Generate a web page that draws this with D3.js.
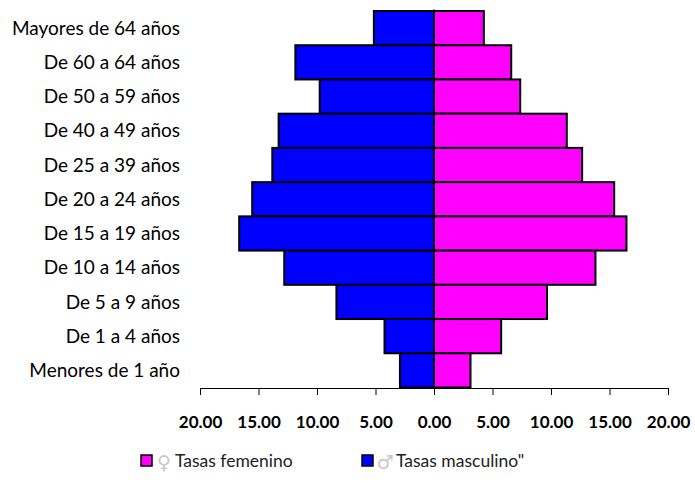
<!DOCTYPE html>
<html>
<head>
<meta charset="utf-8">
<script src="https://cdn.jsdelivr.net/npm/d3@7"></script>
<style>
  html, body { margin: 0; padding: 0; background: #fff; }
  svg { display: block; font-family: Lato, "Open Sans", sans-serif; }
</style>
</head>
<body>
<svg id="chart" width="695" height="489"></svg>
<script>
// ---- data ----
const categories = [
  "Mayores de 64 años",
  "De 60 a 64 años",
  "De 50 a 59 años",
  "De 40 a 49 años",
  "De 25 a 39 años",
  "De 20 a 24 años",
  "De 15 a 19 años",
  "De 10 a 14 años",
  "De 5 a 9 años",
  "De 1 a 4 años",
  "Menores de 1 año"
];
const masculino = [5.14, 11.85, 9.77, 13.28, 13.82, 15.54, 16.65, 12.80, 8.34, 4.23, 2.91];
const femenino  = [4.26, 6.60, 7.37, 11.35, 12.66, 15.40, 16.45, 13.80, 9.66, 5.74, 3.12];
const tickValues = [-20, -15, -10, -5, 0, 5, 10, 15, 20];
const legendSymbols = ["\u2640", "\u2642"];
const legendLabels = ["Tasas femenino", "Tasas masculino\""];

// ---- layout ----
const svg = d3.select("#chart");
const plot = { left: 200, right: 668, top: 11, bottom: 387.5 };
const colF = "#FF00FF", colM = "#0000FF";

const x = d3.scaleLinear().domain([-20, 20]).range([plot.left, plot.right]);
const y = d3.scaleBand().domain(categories).range([plot.top, plot.bottom]).padding(0);

const rows = categories.map((c, i) => ({ cat: c, m: masculino[i], f: femenino[i] }));

// male bars (left)
svg.append("g").selectAll("rect").data(rows).join("rect")
  .attr("x", d => x(-d.m))
  .attr("y", d => y(d.cat))
  .attr("width", d => x(0) - x(-d.m))
  .attr("height", y.bandwidth())
  .attr("fill", colM)
  .attr("stroke", "#000")
  .attr("stroke-width", 2);

// female bars (right)
svg.append("g").selectAll("rect").data(rows).join("rect")
  .attr("x", x(0))
  .attr("y", d => y(d.cat))
  .attr("width", d => x(d.f) - x(0))
  .attr("height", y.bandwidth())
  .attr("fill", colF)
  .attr("stroke", "#000")
  .attr("stroke-width", 2);

// vertical center axis
svg.append("line")
  .attr("x1", x(0)).attr("x2", x(0))
  .attr("y1", plot.top - 1.5).attr("y2", plot.bottom)
  .attr("stroke", "#000").attr("stroke-width", 1.5);

// category labels
svg.append("g").selectAll("text").data(categories).join("text")
  .attr("x", 180)
  .attr("y", d => y(d) + y.bandwidth() / 2)
  .attr("dy", "0.35em")
  .attr("text-anchor", "end")
  .style("font-family", "Lato, 'Open Sans', sans-serif")
  .style("font-size", "19px")
  .attr("fill", "#000")
  .text(d => d);

// x axis
const xAxis = d3.axisBottom(x)
  .tickValues(tickValues)
  .tickSize(7)
  .tickSizeOuter(7)
  .tickFormat(v => Math.abs(v).toFixed(2));
const gx = svg.append("g")
  .attr("transform", `translate(0,${plot.bottom + 0.5})`)
  .call(xAxis);
gx.select(".domain").attr("stroke", "#000").attr("stroke-width", 1);
gx.selectAll(".tick line").attr("stroke", "#000").attr("stroke-width", 1);
gx.selectAll(".tick text")
  .attr("y", 34)
  .attr("dy", "0.35em")
  .attr("fill", "#000")
  .style("font-size", "17px")
  .style("font-weight", "bold")
  .style("font-family", "Lato, 'Open Sans', sans-serif");

// legend
const legend = svg.append("g");
const legendItems = [
  { sym: legendSymbols[0], label: legendLabels[0], color: colF, x: 141 },
  { sym: legendSymbols[1], label: legendLabels[1], color: colM, x: 362 }
];
legendItems.forEach(it => {
  legend.append("rect")
    .attr("x", it.x).attr("y", 455)
    .attr("width", 11).attr("height", 11)
    .attr("fill", it.color)
    .attr("stroke", "#000").attr("stroke-width", 1.5);
  legend.append("text")
    .attr("x", it.x + 23).attr("y", 462)
    .attr("dy", "0.35em")
    .attr("text-anchor", "middle")
    .style("font-size", "19px")
    .style("font-family", "'DejaVu Sans', sans-serif")
    .attr("fill", "#c8c8c8")
    .text(it.sym);
  legend.append("text")
    .attr("x", it.x + 34).attr("y", 461)
    .attr("dy", "0.35em")
    .style("font-size", "17.5px")
    .style("font-family", "Lato, 'Open Sans', sans-serif")
    .attr("fill", "#222")
    .text(it.label);
});
</script>
</body>
</html>
